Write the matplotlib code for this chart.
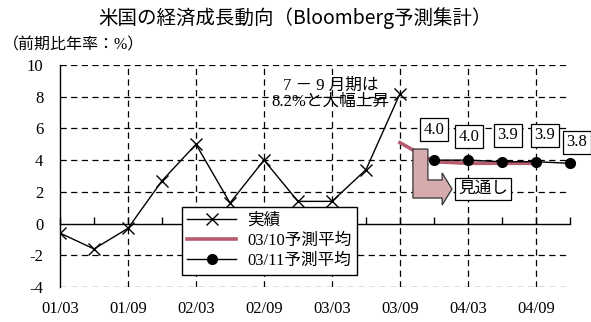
import matplotlib
matplotlib.use("Agg")
import matplotlib.pyplot as plt
from matplotlib.patches import Polygon

# ==========================================
# DONNÉES
# ==========================================
quarters = ['01/03', '01/06', '01/09', '01/12', '02/03', '02/06', '02/09', '02/12',
            '03/03', '03/06', '03/09', '03/12', '04/03', '04/06', '04/09', '04/12']
actual = [-0.6, -1.6, -0.3, 2.7, 5.0, 1.3, 4.0, 1.4, 1.4, 3.4, 8.2]
fc_oct = [5.1, 3.9, 3.8, 3.8, 3.8]        # 03/09 -> 04/09
fc_nov = [4.0, 4.0, 3.9, 3.9, 3.8]        # 03/12 -> 04/12
fc_oct_start = 10
fc_nov_start = 11

serif_jp = ['Liberation Serif', 'Noto Sans CJK JP']
plt.rcParams['font.family'] = serif_jp
plt.rcParams['axes.unicode_minus'] = False

fig = plt.figure(figsize=(5.91, 3.22), dpi=100)
ax = fig.add_axes([60 / 591, 35 / 322, 510 / 591, 222 / 322])

x_act = list(range(len(actual)))
x_oct = list(range(fc_oct_start, fc_oct_start + len(fc_oct)))
x_nov = list(range(fc_nov_start, fc_nov_start + len(fc_nov)))

# Séries
ax.plot(x_oct, fc_oct, color='#b55d6c', linewidth=2.6, zorder=3, label='03/10予測平均')
ax.plot(x_act, actual, color='black', linewidth=1.0, marker='x', markersize=9,
        markeredgewidth=1.0, zorder=4, label='実績')
ax.plot(x_nov, fc_nov, color='black', linewidth=1.0, marker='o', markersize=7,
        zorder=5, clip_on=False, label='03/11予測平均')

# Axes
ax.set_xlim(0, 15)
ax.set_ylim(-4, 10)
ax.set_yticks(range(-4, 11, 2))
ax.spines['top'].set_visible(False)
ax.spines['right'].set_visible(False)
ax.spines['bottom'].set_position(('data', 0))
for s in ('left', 'bottom'):
    ax.spines[s].set_linewidth(1.0)
ax.set_xticks(range(len(quarters)))
ax.tick_params(axis='x', direction='in', length=5, width=1, labelbottom=False)
ax.tick_params(axis='y', length=0, labelsize=12, pad=12)

# Grille pointillée
dash = (0, (5, 3.5))
for yv in range(-4, 11, 2):
    if yv != 0:
        ax.axhline(yv, color='black', linewidth=0.9, linestyle=dash, zorder=1)
for xv in range(2, len(quarters), 2):
    ax.axvline(xv, color='black', linewidth=0.9, linestyle=dash, zorder=1)

sec = ax.secondary_xaxis(0)
sec.set_xticks(range(0, len(quarters), 2))
sec.set_xticklabels(quarters[::2])
sec.spines['bottom'].set_visible(False)
sec.tick_params(length=0, labelsize=12, pad=10)

# Étiquettes des prévisions
offsets = [(0, 22), (1, 17), (4, 19), (6.5, 19), (5, 15)]
for xv, v, off in zip(x_nov, fc_nov, offsets):
    ax.annotate(f'{v:.1f}', (xv, v), xytext=off, textcoords='offset points',
                ha='center', va='center', fontsize=12, zorder=6, annotation_clip=False,
                bbox=dict(boxstyle='square,pad=0.22', fc='white', ec='black', lw=0.9))

# Flèche "見通し"
arrow = Polygon([(10.38, 4.7), (10.82, 4.7), (10.82, 2.75), (11.24, 2.75), (11.24, 3.19),
                 (11.53, 2.18), (11.24, 1.17), (11.24, 1.61), (10.38, 1.61)],
                closed=True, facecolor='#d6abad', edgecolor='#333333', linewidth=0.9, zorder=6)
ax.add_patch(arrow)
ax.text(12.44, 2.17, '見通し', ha='center', va='center', fontsize=12, zorder=6,
        bbox=dict(boxstyle='square,pad=0.2', fc='white', ec='black', lw=0.9))

ax.text(7.95, 8.2, '7 － 9 月期は\n' + f'{actual[-1]:.1f}%と大幅上昇', ha='center', va='center',
        fontsize=12, linespacing=1.0, zorder=6)

leg = ax.legend(handles=[ax.lines[1], ax.lines[0], ax.lines[2]], loc='lower left',
                bbox_to_anchor=(0.222, 0.018), fontsize=12, frameon=True, fancybox=False,
                edgecolor='black', framealpha=1, handlelength=2.9, labelspacing=0.25,
                borderpad=0.35, handletextpad=0.7)
leg.get_frame().set_linewidth(1.0)
leg.set_zorder(7)

fig.text(0.5, 1 - 18 / 322, '米国の経済成長動向（Bloomberg予測集計）', ha='center', va='center',
         fontsize=14, fontweight='normal', family=['Noto Sans CJK JP', 'DejaVu Sans'])
fig.text(3 / 591, 1 - 45 / 322, '（前期比年率：%）', ha='left', va='center', fontsize=11.5)

plt.savefig('out.png', dpi=100)
plt.close()
